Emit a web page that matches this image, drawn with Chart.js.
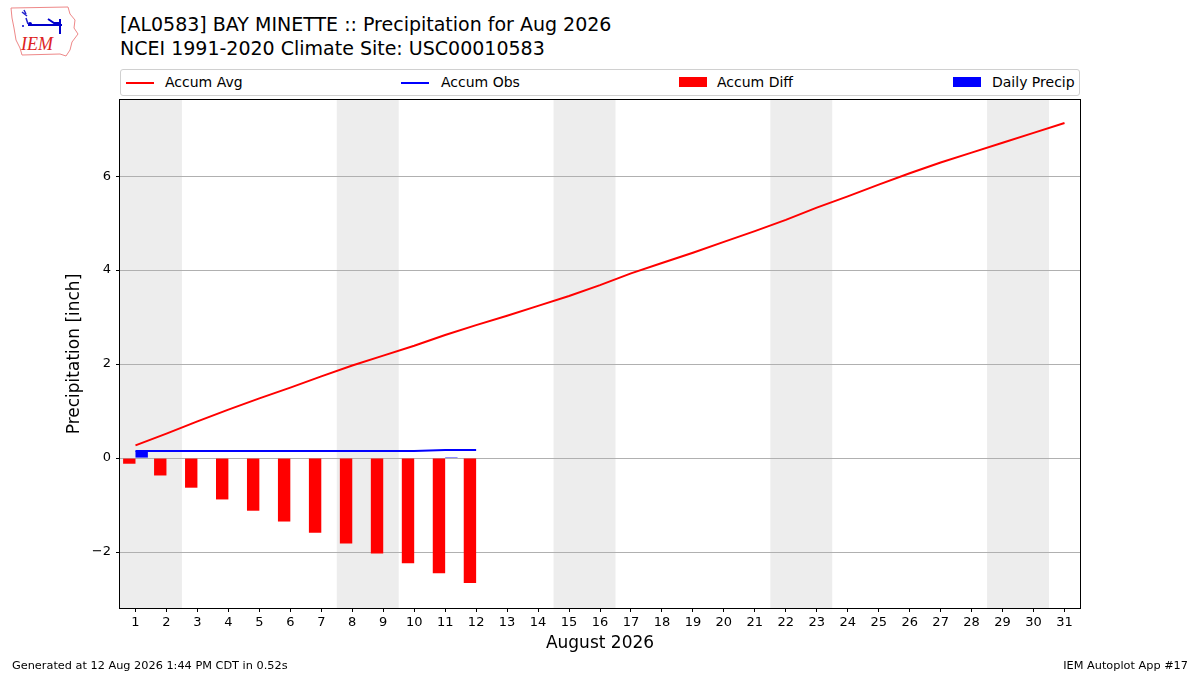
<!DOCTYPE html>
<html>
<head>
<meta charset="utf-8">
<script src="https://cdn.jsdelivr.net/npm/chart.js@4.4.1/dist/chart.umd.min.js"></script>
<style>
    body { margin: 0; width: 1200px; height: 675px; background: #fff; position: relative; overflow: hidden;
           font-family: "DejaVu Sans", sans-serif; color: #000; }
    #chart { position: absolute; left: 0; top: 0; }
    .title { position: absolute; left: 120px; font-size: 19px; white-space: nowrap; line-height: 23px; }
    #legend { position: absolute; left: 120px; top: 69px; width: 958px; height: 25px;
              border: 1px solid #d0d0d0; border-radius: 3px; background: #fff; }
    .lg-text { position: absolute; top: 0; line-height: 24px; font-size: 14px; white-space: nowrap; }
    .lg-line { position: absolute; top: 12px; width: 28px; height: 2px; }
    .lg-box { position: absolute; top: 7px; width: 28px; height: 10px; }
    .foot { position: absolute; top: 659px; font-size: 11.3px; white-space: nowrap; }
    #logo { position: absolute; left: 8px; top: 4px; }
</style>
</head>
<body>
<svg id="logo" width="72" height="56" viewBox="0 0 72 56">
    <path d="M3 4 L60 3 L62 10 L67 16 L66 24 L70 30 L64 38 L62 46 L58 52 L52 50 L14 51 L12 44 L8 36 L6 24 L4 14 Z"
          fill="none" stroke="#e88" stroke-width="1"/>
    <path d="M16 6 L18 10 M14 8 L19 12 M18 14 L20 20" stroke="#22c" stroke-width="1.5" fill="none"/>
    <path d="M20 21 L54 21 M40 15 L46 19 L52 19 M52 15 L52 30" stroke="#00c" stroke-width="2" fill="none"/>
    <circle cx="22" cy="20" r="2" fill="#00c"/>
    <circle cx="15" cy="22" r="1" fill="#00c"/>
    <text x="13" y="46" font-family="Liberation Serif, serif" font-style="italic" font-size="18" fill="#d22">IEM</text>
</svg>
<div class="title" style="top:13px">[AL0583] BAY MINETTE :: Precipitation for Aug 2026</div>
<div class="title" style="top:37px">NCEI 1991-2020 Climate Site: USC00010583</div>
<div id="legend">
    <div class="lg-line" style="left:5px;background:#ff0000"></div>
    <div class="lg-text" style="left:44px">Accum Avg</div>
    <div class="lg-line" style="left:280px;background:#0000ff"></div>
    <div class="lg-text" style="left:320px">Accum Obs</div>
    <div class="lg-box" style="left:558px;background:#ff0000"></div>
    <div class="lg-text" style="left:596px">Accum Diff</div>
    <div class="lg-box" style="left:832px;background:#0000ff"></div>
    <div class="lg-text" style="left:871px">Daily Precip</div>
</div>
<canvas id="chart" width="1200" height="675"></canvas>
<div class="foot" style="left:12px">Generated at 12 Aug 2026 1:44 PM CDT in 0.52s</div>
<div class="foot" style="right:12px">IEM Autoplot App #17</div>
<script>
const days = [1, 2, 3, 4, 5, 6, 7, 8, 9, 10, 11, 12, 13, 14, 15, 16,
    17, 18, 19, 20, 21, 22, 23, 24, 25, 26, 27, 28, 29, 30, 31];
const accumAvg = [0.27, 0.52, 0.78, 1.03, 1.27, 1.50, 1.74, 1.97, 2.18, 2.39, 2.62, 2.83, 3.03, 3.24, 3.45, 3.68,
    3.93, 4.15, 4.37, 4.60, 4.83, 5.07, 5.33, 5.57, 5.82, 6.06, 6.29, 6.50, 6.71, 6.92, 7.13];
const accumObs = [0.15, 0.15, 0.15, 0.15, 0.15, 0.15, 0.15, 0.15, 0.15, 0.15, 0.17, 0.17];
const accumDiff = [-0.12, -0.37, -0.63, -0.88, -1.12, -1.35, -1.59, -1.82, -2.03, -2.24, -2.45, -2.66];
const dailyPrecip = [0.15, 0, 0, 0, 0, 0, 0, 0, 0, 0, 0.02, 0];
const yTicks = [-2, 0, 2, 4, 6];
// saturdays, each weekend covers two days
const weekendStarts = [1, 8, 15, 22, 29];

function points(values) {
    return values.map((v, i) => ({ x: days[i], y: v }));
}

const weekendShade = {
    id: "weekendShade",
    beforeDraw(chart) {
        const { ctx, chartArea, scales } = chart;
        ctx.save();
        ctx.fillStyle = "#ededed";
        weekendStarts.forEach((d) => {
            const x0 = Math.max(scales.x.getPixelForValue(d - 0.5), chartArea.left);
            const x1 = Math.min(scales.x.getPixelForValue(d + 1.5), chartArea.right);
            ctx.fillRect(x0, chartArea.top, x1 - x0, chartArea.bottom - chartArea.top);
        });
        ctx.restore();
    },
    afterDraw(chart) {
        const { ctx, chartArea } = chart;
        ctx.save();
        ctx.strokeStyle = "#000";
        ctx.lineWidth = 1;
        ctx.strokeRect(Math.round(chartArea.left) - 0.5, Math.round(chartArea.top) - 0.5,
            Math.round(chartArea.right - chartArea.left) + 1, Math.round(chartArea.bottom - chartArea.top) + 1);
        ctx.restore();
    },
};

const font = { family: "DejaVu Sans", size: 13 };
const titleFont = { family: "DejaVu Sans", size: 17 };

new Chart(document.getElementById("chart").getContext("2d"), {
    type: "bar",
    data: {
        datasets: [
            {
                type: "line",
                label: "Accum Avg",
                data: points(accumAvg),
                borderColor: "#ff0000",
                borderWidth: 2,
                pointRadius: 0,
                tension: 0,
                order: 0,
            },
            {
                type: "line",
                label: "Accum Obs",
                data: points(accumObs),
                borderColor: "#0000ff",
                borderWidth: 2,
                pointRadius: 0,
                tension: 0,
                order: 0,
            },
            {
                label: "Accum Diff",
                data: points(accumDiff),
                backgroundColor: "#ff0000",
                borderWidth: 0,
                categoryPercentage: 0.8,
                barPercentage: 1.0,
                order: 1,
            },
            {
                label: "Daily Precip",
                data: points(dailyPrecip),
                backgroundColor: "#0000ff",
                borderWidth: 0,
                categoryPercentage: 0.8,
                barPercentage: 1.0,
                order: 1,
            },
        ],
    },
    options: {
        responsive: false,
        animation: false,
        devicePixelRatio: 1,
        layout: { padding: { top: 100, right: 120, bottom: 7, left: 60 } },
        plugins: {
            legend: { display: false },
            tooltip: { enabled: false },
        },
        scales: {
            x: {
                type: "linear",
                min: 0.5,
                max: 31.5,
                offset: false,
                afterBuildTicks: (scale) => {
                    scale.ticks = days.map((d) => ({ value: d }));
                },
                afterFit: (scale) => {
                    scale.height = 60;
                },
                grid: { display: true, drawOnChartArea: false, offset: false, tickLength: 4, tickColor: "#000" },
                border: { display: false },
                ticks: { font: font, color: "#000", padding: 3, maxRotation: 0, autoSkip: false },
                title: {
                    display: true,
                    text: "August 2026",
                    font: titleFont,
                    color: "#000",
                    padding: { top: 4, bottom: 14 },
                },
            },
            y: {
                min: -3.19,
                max: 7.62,
                afterBuildTicks: (scale) => {
                    scale.ticks = yTicks.map((v) => ({ value: v }));
                },
                afterFit: (scale) => {
                    scale.width = 60;
                },
                grid: { color: "#b0b0b0", tickLength: 4, tickColor: "#000" },
                border: { display: false },
                ticks: {
                    font: font,
                    color: "#000",
                    padding: 5,
                    callback: (v) => (v < 0 ? "\u2212" + Math.abs(v) : String(v)),
                },
                title: {
                    display: true,
                    text: "Precipitation [inch]",
                    font: titleFont,
                    color: "#000",
                    padding: { top: 4, bottom: 4 },
                },
            },
        },
    },
    plugins: [weekendShade],
});
</script>
</body>
</html>
